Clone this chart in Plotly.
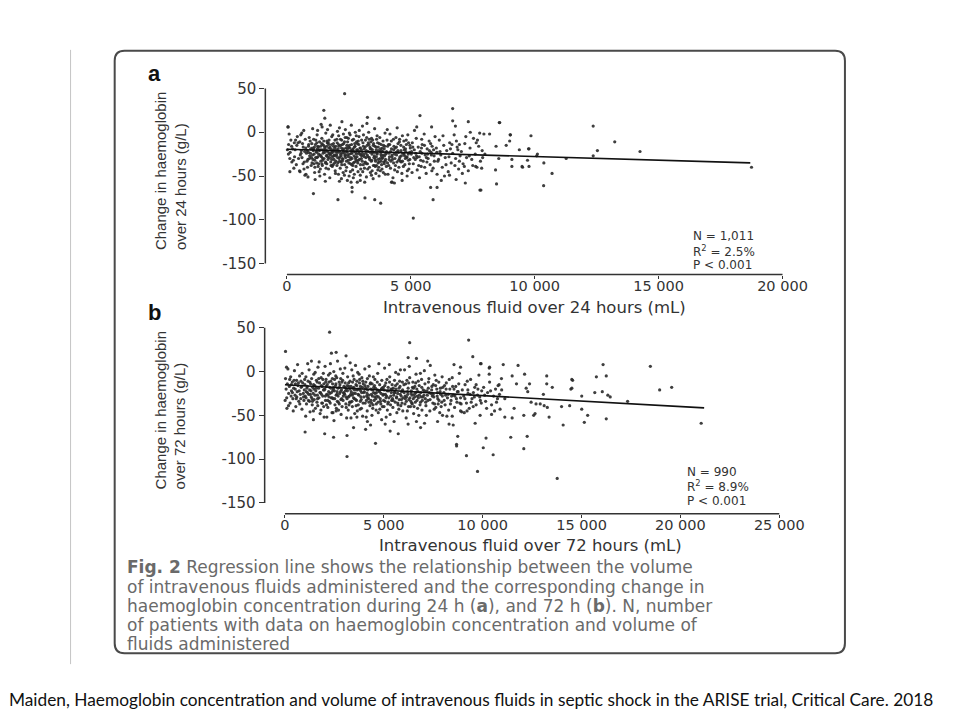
import plotly.graph_objects as go

# ---------------- data ----------------
# Panel a: change in haemoglobin over 24 h vs IV fluid over 24 h (mL)
a_cluster = [
    (40,6),(90,-2),(160,-9),(70,-14),(230,-19),(130,-23),(310,-28),(260,-32),(380,-37),(450,-12),(60,-25),(330,-20),
    (190,-16),(420,-5),(520,-11),(580,-21),(610,-29),(660,-17),(700,-34),(740,-8),(790,-24),(830,-40),(880,-14),(920,-27),
    (960,-19),(510,-44),(560,-3),(650,-36),(720,-22),(770,-48),(850,-31),(900,-6),(980,-38),(540,-26),(630,-13),(690,-42),
    (760,-18),(810,-33),(870,-23),(940,-10),(990,-29),(350,-9),(280,-41),(200,-34),(470,-30),(120,-30),(20,-20),(400,-15),
    (600,-1),(680,2),(850,-51),(570,-24),(300,-12),
    (1020,-18),(1050,-31),(1080,-8),(1100,-25),(1130,-40),(1150,-14),(1180,-22),(1200,-35),(1220,-3),(1250,-28),(1270,-17),
    (1300,-45),(1320,-11),(1340,-26),(1370,-33),(1390,-20),(1410,-7),(1430,-38),(1460,-24),(1480,-15),(1500,-30),(1520,-48),
    (1540,-19),(1570,-1),(1590,-27),(1610,-36),(1630,-12),(1650,-22),(1680,-42),(1700,-9),(1720,-29),(1740,-17),(1770,-34),
    (1790,-24),(1810,-5),(1830,-39),(1860,-20),(1880,-13),(1900,-31),(1920,-26),(1950,-44),(1970,-16),(1990,-23),(1060,-21),
    (1120,-46),(1160,-29),(1210,-12),(1260,-39),(1310,-21),(1360,-16),(1400,-28),(1450,-32),(1490,-10),(1530,-23),(1580,-41),
    (1620,-26),(1660,-31),(1690,-18),(1730,-52),(1760,-26),(1800,-14),(1840,-28),(1870,-37),(1910,-21),(1940,-9),(1980,-33),
    (1040,4),(1140,-54),(1240,2),(1330,-50),(1420,6),(1550,-56),(1640,3),(1750,8),(1850,-3),(1960,-47),(1110,-17),(1280,-25),
    (1470,-20),(1600,-16),(1710,-24),(1820,-22),(1930,-18),(1350,-42),(1560,-35),(1780,-38),(1090,-36),(1230,-19),(1440,-14),
    (1670,-12),(1890,-27),(1380,9),
    (2010,-26),(2030,-12),(2050,-35),(2070,-19),(2090,-4),(2110,-30),(2130,-22),(2150,-41),(2170,-15),(2190,-27),(2210,-9),
    (2230,-33),(2250,-20),(2270,-46),(2290,-13),(2310,-24),(2330,-37),(2350,-6),(2370,-29),(2390,-18),(2410,-40),(2430,-23),
    (2450,-11),(2470,-32),(2490,-17),(2510,-50),(2530,-25),(2550,-3),(2570,-36),(2590,-21),(2610,-14),(2630,-30),(2650,-43),
    (2670,-19),(2690,-8),(2710,-27),(2730,-34),(2750,-16),(2770,-23),(2790,-39),(2810,-11),(2830,-28),(2850,-20),(2870,-45),
    (2890,-24),(2910,-5),(2930,-31),(2950,-18),(2970,-37),(2990,-26),(2020,-38),(2060,-23),(2100,-16),(2140,-28),(2180,-34),
    (2220,-24),(2260,-31),(2300,-19),(2340,-27),(2380,-44),(2420,-15),(2460,-26),(2500,-35),(2540,-18),(2580,-29),(2620,-24),
    (2660,-38),(2700,-22),(2740,-13),(2780,-31),(2820,-20),(2860,-35),(2900,-14),(2940,-25),(2980,-42),(2040,1),(2120,5),
    (2200,-53),(2280,-2),(2360,3),(2440,-55),(2520,-1),(2600,8),(2680,-52),(2760,0),(2840,-57),(2920,2),(2080,-48),(2160,-8),
    (2240,-14),(2320,-49),(2400,-22),(2480,-7),(2560,-45),(2640,-9),(2720,-48),(2800,-4),(2880,-10),(2960,-49),
    (3010,-20),(3040,-33),(3070,-12),(3100,-26),(3130,-41),(3160,-17),(3190,-29),(3220,-6),(3250,-36),(3280,-22),(3310,-14),
    (3340,-31),(3370,-46),(3400,-19),(3430,-25),(3460,-9),(3490,-38),(3520,-23),(3550,-16),(3580,-33),(3610,-28),(3640,-4),
    (3670,-43),(3700,-21),(3730,-13),(3760,-30),(3790,-25),(3820,-37),(3850,-18),(3880,-10),(3910,-34),(3940,-27),(3970,-48),
    (3020,-27),(3060,-45),(3090,-3),(3120,-19),(3150,-35),(3180,-24),(3210,-51),(3240,-15),(3270,-28),(3300,0),(3330,-40),
    (3360,-23),(3390,-11),(3420,-32),(3450,-20),(3480,-53),(3510,-29),(3540,4),(3570,-39),(3600,-17),(3630,-24),(3660,-12),
    (3690,-31),(3720,-50),(3750,-6),(3780,-19),(3810,-27),(3840,-42),(3870,-22),(3900,-15),(3930,-36),(3960,-1),(3990,-25),
    (3050,7),(3140,-57),(3230,10),(3320,-8),(3410,-49),(3500,-13),(3590,-47),(3680,-35),(3770,-44),(3860,-29),(3950,-16),
    (3080,-37),(3170,-9),(3260,-42),(3350,-17),(3440,-44),(3530,-38),(3620,-8),(3710,-40),(3800,-33),(3890,-46),(3980,-31),
    (4020,-22),(4060,-35),(4100,-14),(4140,-28),(4180,-41),(4220,-19),(4260,-31),(4300,-8),(4340,-25),(4380,-38),(4420,-17),
    (4460,-45),(4500,-23),(4540,-11),(4580,-33),(4620,-27),(4660,-4),(4700,-39),(4740,-20),(4780,-30),(4820,-14),(4860,-44),
    (4900,-25),(4940,-36),(4980,-18),(4040,-9),(4080,-48),(4120,-24),(4160,-2),(4200,-33),(4240,-26),(4280,-52),(4320,-16),
    (4360,-30),(4400,-6),(4440,-34),(4480,-21),(4520,-40),(4560,-28),(4600,-15),(4640,-47),(4680,-24),(4720,-10),(4760,-37),
    (4800,-22),(4840,-29),(4880,-3),(4920,-42),(4960,-31),(4050,3),(4250,-57),(4450,5),(4650,-55),(4850,-50),(4110,-38),
    (4310,-20),(4510,-32),(4710,-17),(4910,-12),(4150,-14),(4350,-43),(4550,-8),(4750,-27),(4950,-23),
    (5020,-25),(5060,-12),(5100,-36),(5140,-20),(5180,-31),(5220,-7),(5260,-43),(5300,-17),(5340,-28),(5380,-22),(5420,-39),
    (5460,-14),(5500,-33),(5540,-2),(5580,-26),(5620,-47),(5660,-19),(5700,-30),(5740,-10),(5780,-37),(5820,-23),(5860,-16),
    (5900,-41),(5940,-27),(5980,-5),(5050,-46),(5150,2),(5250,-29),(5350,-52),(5450,-24),(5550,-15),(5650,-34),(5750,-21),
    (5850,-44),(5950,-33),(5080,-17),(5200,-24),(5320,-38),(5440,-8),(5560,-40),(5680,-25),(5800,-13),(5920,-20),(5120,-29),
    (5400,-32),
    (6030,-18),(6090,-33),(6150,-9),(6210,-26),(6270,-40),(6330,-15),(6390,-29),(6450,-21),(6510,-45),(6570,-12),(6630,-35),
    (6690,-24),(6750,-3),(6810,-30),(6870,-17),(6930,-42),(6990,-27),(6060,-48),(6180,-22),(6300,-4),(6420,-37),(6540,-28),
    (6660,-14),(6780,-38),(6900,-20),(6120,-31),(6360,-50),(6600,-19),(6840,-10),(6960,-33),
    (7040,-22),(7110,-36),(7180,-13),(7250,-29),(7320,-44),(7390,-18),(7460,-31),(7530,-7),(7600,-25),(7670,-40),(7740,-16),
    (7810,-33),(7880,-21),(7950,-2),(7080,-47),(7220,-5),(7360,-27),(7500,-38),(7640,-12),(7900,-29),
]
a_core = [
    (820,-21),(870,-16),(910,-30),(950,-24),(1005,-13),(1035,-26),(1075,-19),(1125,-32),(1165,-9),(1205,-23),(1245,-16),
    (1285,-36),(1325,-20),(1365,-27),(1405,-13),(1445,-30),(1485,-22),(1525,-17),(1565,-34),(1605,-21),(1645,-28),(1685,-14),
    (1725,-25),(1765,-19),(1805,-31),(1845,-23),(1885,-16),(1925,-35),(1965,-27),(2005,-20),(2045,-29),(2085,-14),(2125,-33),
    (2165,-25),(2205,-18),(2245,-30),(2285,-22),(2325,-11),(2365,-26),(2405,-33),(2445,-19),(2485,-28),(2525,-15),(2565,-31),
    (2605,-24),(2645,-20),(2685,-35),(2725,-17),(2765,-29),(2805,-25),(2845,-13),(2885,-32),(2925,-22),(2965,-18),(3005,-30),
    (3045,-24),(3085,-16),(3125,-28),(3165,-34),(3205,-21),(3245,-26),(3285,-12),(3325,-29),(3365,-19),(3405,-33),(3445,-23),
    (3485,-15),(3525,-27),(3565,-31),(3605,-20),(3645,-25),(3685,-17),(3725,-34),(3765,-22),(3805,-14),(3845,-30),(3885,-26),
    (3925,-19),(3965,-33),(4005,-24),(4065,-16),(4125,-31),(4185,-22),(4245,-28),(4305,-35),(4365,-18),(4425,-26),(4485,-13),
    (4545,-30),(4605,-21),(4665,-33),(4725,-25),(4785,-19),(4845,-28),(4905,-32),(4965,-15),(1015,-35),(1215,-29),(1415,-36),
    (1615,-10),(1815,-38),(2015,-8),(2215,-37),(2415,-6),(2615,-37),(2815,-33),(3015,-9),(3215,-36),(3415,-7),(3615,-38),
    (3815,-21),(4015,-39),(4215,-10),(4415,-23),(4615,-34),(4815,-9),(5030,-22),(5230,-27),(5430,-18),(5630,-29),(5830,-26),
    (6050,-23),
]
a_sparse = [
    (2330,44),(1490,25),(1530,16),(50,6),(3250,17),(3720,16),(2220,12),(120,-45),(1070,-70),(2060,-77),(2630,-63),
    (2630,-68),(3150,-75),(3545,-77),(3785,-81),(5100,-98),(2120,-56),(2590,-57),(2960,-55),(4220,-57),(4340,-58),
    (530,-45),(730,-49),(6690,27),(5370,19),(7320,12),(8570,11),(6690,13),(5240,6),(5840,6),(6800,7),(7400,0),(7780,-1),
    (8180,-2),(9010,-3),(9850,-4),(8990,-10),(7690,-9),(6960,-14),(8440,-16),(8850,-15),(9380,-20),(9770,-19),(10110,-25),
    (7990,-25),(8550,-30),(9080,-31),(9710,-32),(10370,-35),(9080,-39),(9510,-40),(9770,-39),(8420,-43),(7860,-41),
    (7620,-39),(10700,-47),(7160,-39),(6230,-55),(6830,-54),(7200,-58),(8460,-59),(5800,-63),(6060,-63),(7790,-66),
    (5900,-77),(10360,-61),(6560,-49),(12360,7),(13230,-11),(12530,-21),(12360,-27),(14250,-22),(11270,-30),(18750,-40),
    (8590,11),(9020,-3),(9750,-19),(10080,-27),(9490,-39),(7830,-66),
]

# Panel b: change in haemoglobin over 72 h vs IV fluid over 72 h (mL)
b_cluster = [
    (30,-8),(60,-20),(90,-30),(120,-14),(150,3),(190,-25),(220,-17),(260,-36),(290,-6),(330,-22),(370,-12),(400,-31),
    (440,-19),(480,1),(510,-27),(550,-40),(590,-10),(620,-23),(660,-16),(700,-34),(740,-5),(780,-26),(820,-18),(860,-43),
    (900,-13),(940,-29),(980,-21),(80,5),(180,-39),(310,-28),(420,-45),(530,-14),(640,8),(750,-37),(870,-2),(960,-33),
    (240,-9),(570,-31),(810,-11),(100,-42),
    (1010,-15),(1030,-28),(1060,-6),(1090,-37),(1110,-19),(1140,-24),(1170,-11),(1190,-33),(1220,2),(1250,-21),(1270,-46),
    (1300,-14),(1330,-29),(1350,-8),(1380,-38),(1400,-18),(1430,-25),(1460,-3),(1480,-32),(1510,-16),(1540,-42),(1560,-22),
    (1590,-10),(1620,-35),(1640,-27),(1670,5),(1700,-19),(1720,-30),(1750,-13),(1780,-48),(1800,-24),(1830,-7),(1860,-36),
    (1880,-17),(1910,-28),(1940,-2),(1960,-40),(1990,-21),(1050,-51),(1150,9),(1240,-34),(1340,12),(1440,-55),(1530,-1),
    (1630,-12),(1730,11),(1820,-44),(1920,-9),(1080,-23),(1280,-26),(1470,-20),(1660,-39),(1850,-26),(1970,-14),(1370,-31),
    (2020,-20),(2050,-33),(2080,-9),(2110,-26),(2140,-15),(2170,-41),(2200,-4),(2230,-29),(2260,-18),(2290,-36),(2320,-11),
    (2350,-24),(2380,-47),(2410,-14),(2440,-31),(2470,0),(2500,-22),(2530,-38),(2560,-16),(2590,-27),(2620,-7),(2650,-34),
    (2680,-19),(2710,-44),(2740,-12),(2770,-25),(2800,3),(2830,-32),(2860,-21),(2890,-40),(2920,-10),(2950,-28),(2980,-17),
    (2030,6),(2120,-52),(2210,-23),(2300,9),(2390,-30),(2480,-56),(2570,-5),(2660,12),(2750,-37),(2840,-49),(2930,-2),
    (2060,-12),(2150,-27),(2240,-34),(2330,-19),(2420,-22),(2510,-9),(2600,-42),(2690,-28),(2780,-15),(2870,-31),(2960,-24),
    (2100,-38),(2280,-2),(2460,-18),(2640,-23),(2820,-8),
    (3020,-26),(3050,-13),(3080,-37),(3110,-20),(3140,-31),(3170,-6),(3200,-44),(3230,-17),(3260,-28),(3290,-11),(3320,-35),
    (3350,-23),(3380,2),(3410,-40),(3440,-19),(3470,-30),(3500,-9),(3530,-48),(3560,-25),(3590,-15),(3620,-33),(3650,-21),
    (3680,-1),(3710,-38),(3740,-27),(3770,-13),(3800,-43),(3830,-22),(3860,-32),(3890,-7),(3920,-18),(3950,-36),(3980,-24),
    (3030,4),(3120,-53),(3210,-29),(3300,10),(3390,-34),(3480,-18),(3570,7),(3660,-45),(3750,-3),(3840,-29),(3930,-51),
    (3060,-22),(3150,-16),(3240,-38),(3330,-26),(3420,-12),(3510,-31),(3600,-39),(3690,-20),(3780,-9),(3870,-42),(3960,-14),
    (3100,-41),(3280,-20),(3460,-25),(3640,-11),(3820,-17),
    (4020,-23),(4060,-36),(4090,-12),(4130,-28),(4160,-45),(4200,-17),(4230,-31),(4270,-5),(4300,-39),(4340,-20),(4370,-26),
    (4410,-14),(4440,-42),(4480,-24),(4510,-33),(4550,-9),(4580,-19),(4620,-37),(4650,-28),(4690,-2),(4720,-47),(4760,-22),
    (4790,-15),(4830,-34),(4860,-25),(4900,-10),(4930,-40),(4970,-18),(4040,3),(4110,-52),(4190,-30),(4260,6),(4330,-13),
    (4400,-50),(4470,-6),(4540,-29),(4610,-44),(4680,-21),(4750,9),(4820,-31),(4890,-55),(4960,-27),(4080,-19),(4170,-8),
    (4250,-35),(4350,-33),(4430,-21),(4530,-16),(4630,-24),(4710,-35),(4800,-43),(4880,-20),(4990,-33),(4150,-25),(4460,-38),
    (5020,-21),(5060,-34),(5100,-13),(5140,-28),(5180,-44),(5220,-18),(5260,-30),(5300,-6),(5340,-38),(5380,-24),(5420,-15),
    (5460,-41),(5500,-27),(5540,-10),(5580,-35),(5620,-20),(5660,-47),(5700,-25),(5740,-3),(5780,-32),(5820,-17),(5860,-39),
    (5900,-23),(5940,-12),(5980,-30),(5040,4),(5120,-52),(5200,-37),(5280,8),(5360,-20),(5440,-31),(5520,-57),(5600,-1),
    (5680,-14),(5760,-43),(5840,2),(5920,-36),(5080,-26),(5160,-9),(5240,-22),(5320,-49),(5400,-33),(5480,-19),(5560,-24),
    (5640,-30),(5720,-38),(5800,-11),(5880,-28),(5960,-45),(5010,-40),
    (6030,-24),(6070,-37),(6110,-14),(6150,-29),(6190,-45),(6230,-19),(6270,-32),(6310,-7),(6350,-40),(6390,-22),(6430,-27),
    (6470,-12),(6510,-48),(6550,-26),(6590,-35),(6630,-3),(6670,-20),(6710,-42),(6750,-30),(6790,-16),(6830,-38),(6870,-24),
    (6910,-9),(6950,-33),(6990,-21),(6050,2),(6130,-53),(6210,-26),(6290,6),(6370,-34),(6450,-18),(6530,-40),(6610,-13),
    (6690,-28),(6770,-50),(6850,-2),(6930,-44),(6090,-31),(6250,-40),(6410,-36),(6570,-17),(6730,-23),(6890,-29),(6170,-10),
    (6490,-31),
    (7030,-27),(7080,-14),(7130,-39),(7180,-22),(7230,-33),(7280,-8),(7330,-45),(7380,-25),(7430,-17),(7480,-36),(7530,-29),
    (7580,-4),(7630,-41),(7680,-20),(7730,-31),(7780,-12),(7830,-47),(7880,-26),(7930,-35),(7980,-18),(7050,1),(7150,-50),
    (7250,-19),(7350,7),(7450,-28),(7550,-43),(7650,-10),(7750,-37),(7850,-23),(7950,-6),(7100,-31),(7300,-24),(7500,-15),
    (7700,-28),(7900,-40),
    (8040,-24),(8100,-38),(8160,-13),(8220,-30),(8280,-44),(8340,-20),(8400,-33),(8460,-7),(8520,-27),(8580,-41),(8640,-17),
    (8700,-35),(8760,-23),(8820,-2),(8880,-30),(8940,-46),(8070,-16),(8190,-51),(8310,-9),(8430,-28),(8550,-20),(8670,-31),
    (8790,-14),(8910,-37),(8130,-27),
    (9040,-28),(9110,-15),(9180,-36),(9250,-21),(9320,-42),(9390,-9),(9460,-31),(9530,-24),(9600,-18),(9670,-38),(9740,-27),
    (9810,-4),(9880,-33),(9950,-22),(9070,-47),(9220,-11),(9370,-26),(9520,-40),(9670,-15),(9850,-29),
    (10050,-18),(10150,-34),(10250,-24),(10350,-12),(10450,-38),(10550,-28),(10650,-20),(10750,-31),(10850,-26),(10950,-8),
    (10200,-42),(10600,-45),
]
b_core = [
    (320,-15),(380,-24),(460,-10),(520,-20),(600,-29),(680,-13),(720,-22),(800,-31),(850,-17),(930,-25),(1000,-9),
    (1070,-30),(1130,-17),(1200,-26),(1260,-12),(1320,-22),(1390,-34),(1450,-15),(1520,-27),(1580,-19),(1650,-31),(1710,-8),
    (1770,-24),(1840,-16),(1900,-36),(1950,-21),(2040,-28),(2090,-17),(2160,-33),(2220,-12),(2270,-25),(2340,-30),(2400,-8),
    (2450,-20),(2520,-31),(2580,-14),(2630,-26),(2700,-35),(2760,-18),(2810,-23),(2880,-12),(2940,-33),(2990,-25),(3040,-18),
    (3090,-29),(3160,-22),(3220,-13),(3270,-35),(3340,-17),(3400,-27),(3450,-5),(3520,-21),(3580,-32),(3630,-16),(3700,-26),
    (3760,-20),(3810,-34),(3880,-24),(3940,-11),(3990,-29),(4050,-16),(4120,-33),(4180,-21),(4240,-27),(4310,-14),(4380,-36),
    (4420,-28),(4490,-18),(4560,-25),(4600,-31),(4670,-12),(4730,-29),(4780,-23),(4850,-37),(4910,-19),(4980,-26),(5050,-16),
    (5110,-30),(5170,-22),(5230,-35),(5290,-12),(5350,-28),(5410,-20),(5470,-33),(5530,-24),(5590,-16),(5650,-29),(5710,-36),
    (5770,-19),(5830,-26),(5890,-32),(5950,-21),(6020,-15),(6080,-28),(6140,-34),(6200,-23),(6260,-13),(6320,-30),(6380,-25),
    (6440,-37),(6500,-19),(6560,-29),(6620,-24),(6680,-33),(6740,-11),(6800,-27),(6860,-35),(6920,-18),(6980,-29),(7060,-22),
    (7120,-35),(7200,-27),(7260,-12),(7340,-32),(7420,-21),(7490,-26),(7570,-37),(7620,-16),(7710,-24),(7790,-33),(7860,-19),
    (7960,-28),(8050,-33),(8150,-20),(8260,-26),(8370,-37),(8480,-17),(8600,-28),(8720,-23),(8850,-36),(8970,-21),(9100,-31),
    (9260,-25),(9420,-35),(9580,-29),(9760,-20),(9930,-36),(10100,-27),(10400,-22),(10700,-35),
]
b_sparse = [
    (2260,45),(30,23),(2350,21),(2590,22),(3090,18),(1020,-69),(2010,-71),(2460,-75),(3140,-73),(3140,-97),(4580,-82),
    (1980,-52),(2430,-47),(2590,-45),(3340,-53),(3640,-52),(4170,-57),(4330,-61),(5070,-60),(4080,-66),(1440,-45),(10,-33),
    (3470,-64),(9290,36),(6310,33),(9500,17),(6230,16),(6650,15),(7220,12),(9920,9),(8550,8),(8880,5),(10330,4),(10330,-3),
    (10780,-16),(5320,-68),(5730,-71),(7060,-59),(6860,-64),(7720,-57),(8300,-60),(8510,-61),(8740,-74),(8680,-83),
    (8680,-85),(9180,-96),(9740,-114),(10170,-76),(10030,-87),(10530,-95),(8880,-45),(9210,-45),(9870,-50),(10450,-49),
    (9620,-59),(7970,-50),(8460,-51),(6650,-57),(6230,-60),(11040,8),(11790,7),(16090,8),(11490,-5),(12120,-3),(13240,-5),
    (15750,-6),(16250,-5),(10830,-15),(11710,-14),(12370,-14),(13240,-14),(14550,-10),(10960,-21),(12200,-19),(12280,-23),
    (13070,-26),(13520,-18),(14460,-20),(15010,-28),(15670,-24),(16050,-23),(16330,-27),(16450,-29),(17330,-34),(12450,-35),
    (12700,-37),(12910,-37),(13110,-39),(13270,-41),(13990,-40),(14400,-39),(15010,-43),(15310,-50),(15140,-58),(16250,-54),
    (10880,-43),(11120,-52),(11490,-53),(12080,-50),(12580,-50),(12650,-48),(13360,-52),(14070,-61),(11420,-75),(12250,-74),
    (12080,-88),(13770,-122),(11590,-42),(11120,-31),(18480,6),(18950,-21),(19560,-18),(21050,-59),(14510,-9),(14510,-19),
    (10350,5),(9890,9),
]

# Regression lines (end points)
reg_a_x = [0, 18700]
reg_a_y = [-19.5, -35]
reg_b_x = [0, 21200]
reg_b_y = [-15, -41.5]

# Axis ticks
y_tickvals = [50, 0, -50, -100, -150]
y_ticktext = ["50", "0", "-50", "-100", "-150"]
xa_tickvals = [0, 5000, 10000, 15000, 20000]
xa_ticktext = ["0", "5 000", "10 000", "15 000", "20 000"]
xb_tickvals = [0, 5000, 10000, 15000, 20000, 25000]
xb_ticktext = ["0", "5 000", "10 000", "15 000", "20 000", "25 000"]

stats_a = ["N = 1,011", "R<sup>2</sup> = 2.5%", "P < 0.001"]
stats_b = ["N = 990", "R<sup>2</sup> = 8.9%", "P < 0.001"]

caption_lines = [
    "<b>Fig. 2</b> Regression line shows the relationship between the volume",
    "of intravenous fluids administered and the corresponding change in",
    "haemoglobin concentration during 24 h (<b>a</b>), and 72 h (<b>b</b>). N, number",
    "of patients with data on haemoglobin concentration and volume of",
    "fluids administered",
]
footnote = ("Maiden, Haemoglobin concentration and volume of intravenous fluids in septic shock "
            "in the ARISE trial, Critical Care. 2018")

# ---------------- figure ----------------
W, H = 960, 720
def PX(x):
    return x / W
def PY(y):
    return 1 - y / H

YTICKFONT = dict(family="DejaVu Sans", size=15, color="#333333")
XTICKFONT = dict(family="DejaVu Sans", size=14.5, color="#333333")
DOT = dict(size=3.2, color="#2a2a2a", opacity=0.9)

fig = go.Figure()
for pts, xr, yr in [(a_cluster + a_core + a_sparse, "x", "y"), (b_cluster + b_core + b_sparse, "x2", "y2")]:
    fig.add_trace(go.Scatter(x=[p[0] for p in pts], y=[p[1] for p in pts], mode="markers",
                             marker=DOT, xaxis=xr, yaxis=yr, showlegend=False, hoverinfo="skip"))
fig.add_trace(go.Scatter(x=reg_a_x, y=reg_a_y, mode="lines", line=dict(color="#111", width=1.6),
                         xaxis="x", yaxis="y", showlegend=False))
fig.add_trace(go.Scatter(x=reg_b_x, y=reg_b_y, mode="lines", line=dict(color="#111", width=1.6),
                         xaxis="x2", yaxis="y2", showlegend=False))

yax = dict(range=[-162.5, 57.6], tickvals=y_tickvals, ticktext=y_ticktext, ticks="outside", ticklen=5,
           tickwidth=1.2, tickcolor="#333", showgrid=False, zeroline=False, showline=False, tickfont=YTICKFONT)
xax = dict(ticks="outside", ticklen=3, tickwidth=1.2, tickcolor="#333", showgrid=False, zeroline=False,
           showline=False, tickfont=XTICKFONT, ticklabelstandoff=-5)

fig.update_layout(
    width=W, height=H, margin=dict(l=0, r=0, t=0, b=0),
    paper_bgcolor="white", plot_bgcolor="white",
    xaxis=dict(domain=[PX(270.7), PX(805)], range=[-870, 20265], tickvals=xa_tickvals, ticktext=xa_ticktext,
               anchor="y", **xax),
    yaxis=dict(domain=[PY(273.3), PY(80)], anchor="x", **yax),
    xaxis2=dict(domain=[PX(270), PX(802)], range=[-1026, 25347], tickvals=xb_tickvals, ticktext=xb_ticktext,
                anchor="y2", **xax),
    yaxis2=dict(domain=[PY(513.3), PY(320)], anchor="x2", **yax),
)

shapes = []
# axis spines (detached, as in the original)
for xr, yr, xmax in [("x", "y", xa_tickvals[-1]), ("x2", "y2", xb_tickvals[-1])]:
    shapes.append(dict(type="line", xref=xr + " domain", yref=yr, x0=0, x1=0, y0=y_tickvals[-1], y1=y_tickvals[0],
                       line=dict(color="#333", width=1.5)))
    shapes.append(dict(type="line", xref=xr, yref=yr + " domain", x0=0, x1=xmax, y0=0, y1=0,
                       line=dict(color="#333", width=1.5)))
# rounded figure frame
L, T, R, B, r = 117, 49, 862, 653, 10
path = (f"M {PX(L + r)},{PY(T)} L {PX(R - r)},{PY(T)} Q {PX(R)},{PY(T)} {PX(R)},{PY(T + r)} "
        f"L {PX(R)},{PY(B - r)} Q {PX(R)},{PY(B)} {PX(R - r)},{PY(B)} L {PX(L + r)},{PY(B)} "
        f"Q {PX(L)},{PY(B)} {PX(L)},{PY(B - r)} L {PX(L)},{PY(T + r)} Q {PX(L)},{PY(T)} {PX(L + r)},{PY(T)} Z")
shapes.append(dict(type="path", xref="paper", yref="paper", path=path, line=dict(color="#4a4a4a", width=2)))
# slide's thin vertical rule
shapes.append(dict(type="line", xref="paper", yref="paper", x0=PX(72), x1=PX(72), y0=PY(48), y1=PY(664),
                   line=dict(color="#c4c4c4", width=1)))
fig.update_layout(shapes=shapes)

ann = []
def add(text, x, y, size, family="DejaVu Sans", color="#333", xanchor="center", yanchor="middle", angle=0):
    ann.append(dict(text=text, x=PX(x), y=PY(y), xref="paper", yref="paper", showarrow=False,
                    xanchor=xanchor, yanchor=yanchor, textangle=angle, align="left",
                    font=dict(family=family, size=size, color=color)))

add("<b>a</b>", 158, 72, 22, family="Liberation Sans", color="#111")
add("<b>b</b>", 158, 311, 22, family="Liberation Sans", color="#111")
add("Change in haemoglobin<br>over 24 hours (g/L)", 174, 170, 15,
    family="Liberation Sans Narrow, Liberation Sans", angle=-90)
add("Change in haemoglobin<br>over 72 hours (g/L)", 174, 410, 15,
    family="Liberation Sans Narrow, Liberation Sans", angle=-90)
add("Intravenous fluid over 24 hours (mL)", 545, 306, 16.5)
add("Intravenous fluid over 72 hours (mL)", 541, 545, 16.5)
for i, s in enumerate(stats_a):
    add(s, 705, 235 + i * 14.5, 12, xanchor="left")
for i, s in enumerate(stats_b):
    add(s, 699, 471 + i * 14.5, 12, xanchor="left")
for i, s in enumerate(caption_lines):
    add(s, 128, 567 + i * 19.3, 17, family="DejaVu Sans", color="#6a6a6a", xanchor="left")
add(footnote, 480, 699, 17.3, family="Lato", color="#111")
fig.update_layout(annotations=ann)

fig.write_html("out.html", config={"displayModeBar": False},
               post_script="document.body.style.margin='0';")
